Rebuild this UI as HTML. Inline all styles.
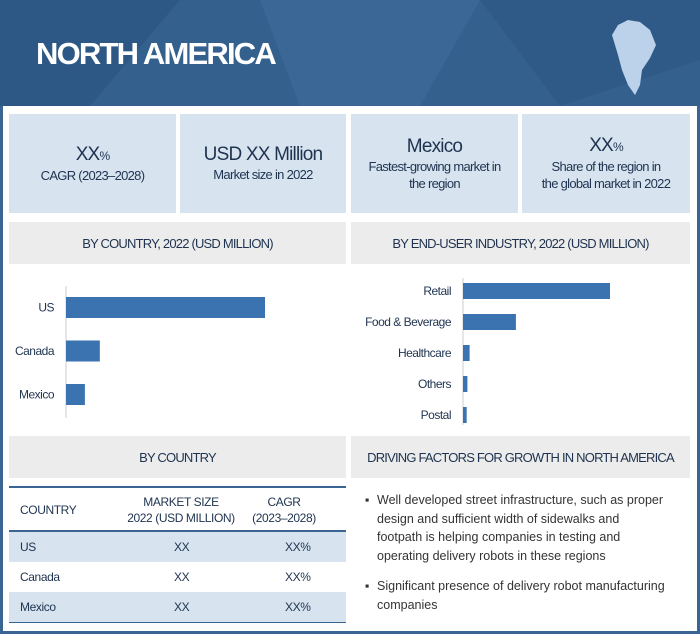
<!DOCTYPE html>
<html><head><meta charset="utf-8"><style>
*{margin:0;padding:0;box-sizing:border-box}
body{width:700px;height:634px;position:relative;background:#fff;font-family:"Liberation Sans",sans-serif;color:#1f3350;overflow:hidden}
.abs{position:absolute}
.kpi{position:absolute;top:114px;height:99px;background:#d7e3ef;text-align:center;display:flex;flex-direction:column;justify-content:center;font-size:13px;line-height:17px;letter-spacing:-0.7px}
.kpi .big{font-size:19px;line-height:22px;letter-spacing:-0.8px}
.hdr{position:absolute;background:#ececec;display:flex;align-items:center;justify-content:center;font-size:13px;letter-spacing:-0.8px}
.row{position:absolute;left:9px;width:337px;height:30px;font-size:12px;letter-spacing:-0.4px}
.row span{position:absolute;top:8px}
</style></head><body>
<div class="abs" style="left:0;top:0;width:700px;height:634px;border:3px solid #3a6592;border-top:none"></div>
<svg class="abs" style="left:0;top:0" width="700" height="106">
<rect width="700" height="106" fill="#34608e"/>
<polygon points="0,0 180,0 90,106 0,106" fill="#2d5886"/>
<polygon points="260,0 480,0 420,106 300,106" fill="#3a6796"/>
<polygon points="480,0 700,0 700,60 560,106" fill="#2f5a88"/>
<polygon points="612,35 618,25 628,20 640,22 650,30 656,45 650,58 642,70 640,85 635,95 628,85 622,70 618,55" fill="#bcd2ea"/>
</svg>
<div class="abs" style="left:36px;top:36px;color:#fff;font-size:31px;font-weight:bold;letter-spacing:-1.8px">NORTH AMERICA</div>
<div class="kpi" style="left:9px;width:167px"><div class="big">XX<span style="font-size:12px">%</span></div><div>CAGR (2023–2028)</div></div>
<div class="kpi" style="left:180px;width:166px"><div class="big">USD XX Million</div><div>Market size in 2022</div></div>
<div class="kpi" style="left:351px;width:167px"><div class="big">Mexico</div><div>Fastest-growing market in<br>the region</div></div>
<div class="kpi" style="left:522px;width:168px"><div class="big">XX<span style="font-size:12px">%</span></div><div>Share of the region in<br>the global market in 2022</div></div>
<div class="hdr" style="left:9px;top:222px;width:337px;height:42px">BY COUNTRY, 2022 (USD MILLION)</div>
<div class="hdr" style="left:351px;top:222px;width:339px;height:42px">BY END-USER INDUSTRY, 2022 (USD MILLION)</div>
<svg id="c1" class="abs" style="left:0;top:264px" width="350" height="170"></svg>
<svg id="c2" class="abs" style="left:350px;top:264px" width="350" height="170"></svg>
<div class="hdr" style="left:9px;top:436px;width:337px;height:42px">BY COUNTRY</div>
<div class="hdr" style="left:351px;top:436px;width:339px;height:42px">DRIVING FACTORS FOR GROWTH IN NORTH AMERICA</div>
<div class="abs" style="left:9px;top:486px;width:337px;height:137px;border-top:2px solid #3a6592;border-bottom:2px solid #3a6592"></div>
<div class="row" style="top:488px;height:42px"><span style="left:11px;top:15px">COUNTRY</span><span style="left:112px;top:6px;width:120px;text-align:center;line-height:16px">MARKET SIZE<br>2022 (USD MILLION)</span><span style="left:240px;top:6px;width:70px;text-align:center;line-height:16px">CAGR<br>(2023–2028)</span></div>
<div class="abs" style="left:9px;top:530px;width:337px;height:2px;background:#3a6592"></div>
<div class="row" style="top:532px;background:#d7e3ef"><span style="left:11px">US</span><span style="left:165px">XX</span><span style="left:276px">XX%</span></div>
<div class="row" style="top:562px"><span style="left:11px">Canada</span><span style="left:165px">XX</span><span style="left:276px">XX%</span></div>
<div class="row" style="top:592px;background:#d7e3ef"><span style="left:11px">Mexico</span><span style="left:165px">XX</span><span style="left:276px">XX%</span></div>
<div class="abs" style="left:365px;top:491px;width:330px;font-size:12.5px;line-height:18.5px;color:#333;white-space:nowrap">
<div style="padding-left:12px;position:relative"><span style="position:absolute;left:0">▪</span>Well developed street infrastructure, such as proper<br>design and sufficient width of sidewalks and<br>footpath is helping companies in testing and<br>operating delivery robots in these regions</div>
<div style="padding-left:12px;position:relative;margin-top:12px"><span style="position:absolute;left:0">▪</span>Significant presence of delivery robot manufacturing<br>companies</div>
</div>
<script>
const countries=["US","Canada","Mexico"];
const countryValues=[100,17,9.5];
const industries=["Retail","Food & Beverage","Healthcare","Others","Postal"];
const industryValues=[100,36,4.5,3,2.5];
const NS="http://www.w3.org/2000/svg";
function draw(svg,cats,vals,ax,y0,y1,maxW,step,barH,firstY){
  const s=document.getElementById(svg);
  const line=document.createElementNS(NS,"line");
  
  
  line.setAttribute("x1",ax);line.setAttribute("x2",ax);line.setAttribute("y1",y0);line.setAttribute("y2",y1);
  line.setAttribute("stroke","#ccc");s.appendChild(line);
  const xs=v=>v/100*maxW;
  cats.forEach((c,i)=>{
    const y=firstY+i*step;
    const r=document.createElementNS(NS,"rect");
    
    
    r.setAttribute("x",ax);r.setAttribute("y",y);r.setAttribute("width",xs(vals[i]));r.setAttribute("height",barH);r.setAttribute("fill","#3b73b0");
    s.appendChild(r);
    const t=document.createElementNS(NS,"text");
    
    
    t.setAttribute("x",ax-12);t.setAttribute("y",y+barH/2+4);t.setAttribute("text-anchor","end");
    t.setAttribute("font-size","12");t.setAttribute("fill","#1f3350");t.setAttribute("letter-spacing","-0.5");
    t.setAttribute("font-family","Liberation Sans, sans-serif");
    t.textContent=c;s.appendChild(t);
  });
}
draw("c1",countries,countryValues,66,22,154,199,43.5,21,33);
draw("c2",industries,industryValues,113,14,161,147,31,16,19);
</script>
</body></html>
